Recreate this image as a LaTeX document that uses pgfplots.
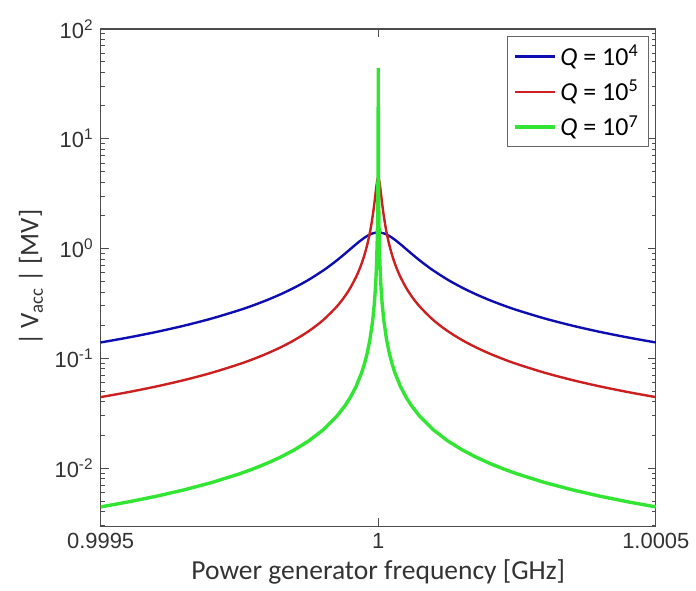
\documentclass[border=0pt]{standalone}
\usepackage{pgfplots}
\pgfplotsset{compat=1.18}
\usepackage{fontspec}
\setmainfont{Liberation Sans}
\newfontfamily\labelfont{Carlito}

\definecolor{qblue}{rgb}{0.05,0.05,0.70}
\definecolor{qred}{rgb}{0.80,0.12,0.12}
\definecolor{qgreen}{rgb}{0.20,0.90,0.20}

% x = frequency offset from 1 GHz, in kHz
\pgfplotstableread{
x V
-500 0.1393
-450 0.1546
-400 0.1736
-350 0.1980
-300 0.2302
-250 0.2746
-225 0.3037
-200 0.3395
-175 0.3846
-150 0.4427
-125 0.5199
-100 0.6261
-90 0.6799
-80 0.7420
-70 0.8137
-60 0.8963
-50 0.9899
-45 1.0406
-40 1.0932
-35 1.1469
-30 1.2005
-25 1.2522
-20 1.2999
-15 1.3410
-10 1.3728
-5 1.3930
0 1.4000
5 1.3930
10 1.3728
15 1.3410
20 1.2999
25 1.2522
30 1.2005
35 1.1469
40 1.0932
45 1.0406
50 0.9899
60 0.8963
70 0.8137
80 0.7420
90 0.6799
100 0.6261
125 0.5199
150 0.4427
175 0.3846
200 0.3395
225 0.3037
250 0.2746
300 0.2302
350 0.1980
400 0.1736
450 0.1546
500 0.1393
}\qfour

\pgfplotstableread{
x V
-500 0.04427
-450 0.04919
-400 0.05534
-350 0.06324
-300 0.07378
-250 0.08852
-225 0.09835
-200 0.11064
-175 0.12643
-150 0.14748
-125 0.17694
-100 0.2211
-75 0.2945
-60 0.3676
-50 0.4405
-40 0.5491
-35 0.6261
-30 0.7278
-25 0.8682
-20 1.0737
-17.5 1.216
-15 1.400
-12.5 1.644
-10 1.980
-8 2.346
-6 2.834
-5 3.130
-4 3.457
-3 3.796
-2 4.110
-1 4.341
0 4.427
1 4.341
2 4.110
3 3.796
4 3.457
5 3.130
6 2.834
8 2.346
10 1.980
12.5 1.644
15 1.400
17.5 1.216
20 1.0737
25 0.8682
30 0.7278
35 0.6261
40 0.5491
50 0.4405
60 0.3676
75 0.2945
100 0.2211
125 0.17694
150 0.14748
175 0.12643
200 0.11064
225 0.09835
250 0.08852
300 0.07378
350 0.06324
400 0.05534
450 0.04919
500 0.04427
}\qfive

\pgfplotstableread{
x V
-500 0.004427
-450 0.004919
-400 0.005534
-350 0.006324
-300 0.007378
-250 0.008854
-225 0.009838
-200 0.011067
-175 0.012649
-150 0.014757
-125 0.017708
-100 0.022135
-75 0.02951
-60 0.036892
-50 0.04427
-40 0.05534
-30 0.07378
-25 0.08854
-20 0.11067
-15 0.14757
-10 0.2213
-7 0.3162
-5 0.4427
-4 0.5534
-3 0.7378
-2 1.1064
-1.5 1.4757
-1 2.211
-0.75 2.945
-0.5 4.405
-0.3 7.278
-0.2 10.74
-0.1 19.80
-0.05 31.30
-0.025 39.60
0 44.27
0.025 39.60
0.05 31.30
0.1 19.80
0.2 10.74
0.3 7.278
0.5 4.405
0.75 2.945
1 2.211
1.5 1.4757
2 1.1064
3 0.7378
4 0.5534
5 0.4427
7 0.3162
10 0.2213
15 0.14757
20 0.11067
25 0.08854
30 0.07378
40 0.05534
50 0.04427
60 0.036892
75 0.02951
100 0.022135
125 0.017708
150 0.014757
175 0.012649
200 0.011067
225 0.009838
250 0.008854
300 0.007378
350 0.006324
400 0.005534
450 0.004919
500 0.004427
}\qseven

\begin{document}
\begin{tikzpicture}
\begin{semilogyaxis}[
    scale only axis,
    width=278.5pt,
    height=249.5pt,
    xmin=-500, xmax=500,
    ymin=0.00295, ymax=100,
    xtick={-500,0,500},
    xticklabels={0.9995,1,1.0005},
    ytick={0.01,0.1,1,10,100},
    yticklabels={10\textsuperscript{-2},10\textsuperscript{-1},10\textsuperscript{0},10\textsuperscript{1},10\textsuperscript{2}},
    minor ytick={0.003,0.004,0.005,0.006,0.007,0.008,0.009,
                 0.02,0.03,0.04,0.05,0.06,0.07,0.08,0.09,
                 0.2,0.3,0.4,0.5,0.6,0.7,0.8,0.9,
                 2,3,4,5,6,7,8,9,20,30,40,50,60,70,80,90},
    tick align=inside,
    major tick length=4pt,
    minor tick length=2pt,
    tick style={black!70, line width=0.5pt},
    axis line style={black!70, line width=0.6pt},
    ticklabel style={font=\fontsize{11}{13}\selectfont, text=black!80},
    xlabel={Power generator frequency [GHz]},
    ylabel={|\,V\textsubscript{acc}\,| [MV]},
    xlabel style={font=\labelfont\fontsize{13.8}{15}\selectfont, text=black!80, yshift=1.5pt},
    ylabel style={font=\labelfont\fontsize{13.5}{15}\selectfont, text=black!80, yshift=-1pt},
    legend cell align=left,
    legend style={at={(0.988,0.985)}, anchor=north east,
        draw=black!60, fill=white, line width=0.5pt,
        font=\labelfont\fontsize{13}{15}\selectfont,
        row sep=2pt, inner xsep=3pt, inner ysep=2pt},
    legend image code/.code={\draw[#1] (0pt,0pt) -- (20pt,0pt);},
]
\addplot[qblue, line width=1.2pt, smooth] table[x=x, y=V] {\qfour};
\addplot[qred, line width=1.2pt, smooth] table[x=x, y=V] {\qfive};
\addplot[qgreen, line width=1.7pt] table[x=x, y=V] {\qseven};
\legend{\textit{Q} = 10\textsuperscript{4}, \textit{Q} = 10\textsuperscript{5}, \textit{Q} = 10\textsuperscript{7}}
\end{semilogyaxis}
\path ([xshift=-50.5pt,yshift=-30pt]current axis.south west)
      rectangle ([xshift=19pt,yshift=14.5pt]current axis.north east);
\end{tikzpicture}
\end{document}
